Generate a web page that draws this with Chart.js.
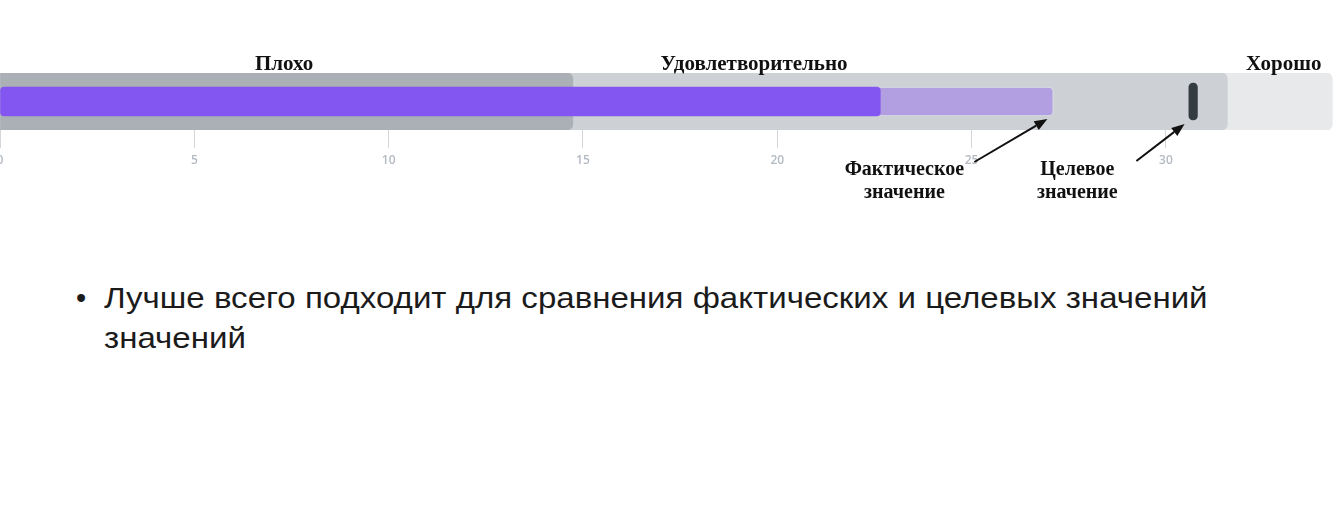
<!DOCTYPE html>
<html lang="ru">
<head>
<meta charset="utf-8">
<title>Маркированная диаграмма</title>
<script src="https://cdn.jsdelivr.net/npm/chart.js@4.4.1/dist/chart.umd.min.js"></script>
<style>
  html, body {
    margin: 0;
    padding: 0;
    background: #fff;
    width: 1342px;
    height: 509px;
    overflow: hidden;
    position: relative;
  }
  /* холст шире окна, чтобы ноль оси пришёлся на левый край */
  #chartBox {
    position: absolute;
    left: -40px;
    top: 0;
    width: 1422px;
    height: 215px;
  }
  .bullet-dot, .bullet-text {
    position: absolute;
    font-family: "Liberation Sans", Arial, sans-serif;
    font-size: 29px;
    line-height: 40px;
    color: #1b1b1b;
    white-space: nowrap;
  }
  .bullet-dot { left: 76px; top: 278px; }
  .bullet-text { left: 104px; top: 278px; transform: scaleX(1.14); transform-origin: 0 0; }
</style>
</head>
<body>

<div id="chartBox"><canvas id="bulletChart"></canvas></div>

<div class="bullet-dot">•</div>
<div class="bullet-text">Лучше всего подходит для сравнения фактических и целевых значений<br>значений</div>

<script>
/* --- Данные --- */
const categories = [''];
const rangeLabels = ['Плохо', 'Удовлетворительно', 'Хорошо'];
const rangeEnds = [14.74, 31.58, 34.28];
const mainValues = [22.65];
const actualValues = [27.1];
const targetValues = [30.7];
const xTicks = [0, 5, 10, 15, 20, 25, 30];
const noteLines = [['Фактическое', 'значение'], ['Целевое', 'значение']];

/* --- Оформление --- */
const rangeColors = ['#aab0b5', '#cdd1d5', '#e8e9eb'];
const markerHalf = 0.11;

// подписи и стрелки поверх графика
const notesPlugin = {
  id: 'notes',
  afterDatasetsDraw(chart) {
    const { ctx, chartArea, scales: { x } } = chart;
    const top = chartArea.top, bottom = chartArea.bottom;

    ctx.save();
    ctx.fillStyle = '#111';
    ctx.strokeStyle = '#111';
    ctx.textAlign = 'center';
    ctx.textBaseline = 'alphabetic';

    // названия диапазонов
    ctx.font = 'bold 21px "Liberation Serif", "Times New Roman", serif';
    const titleAt = [7.31, 19.4, 33.03];
    rangeLabels.forEach((t, i) => ctx.fillText(t, x.getPixelForValue(titleAt[i]), top - 3));

    // пояснения
    ctx.font = 'bold 20px "Liberation Serif", "Times New Roman", serif';
    const noteAt = [23.27, 27.72];
    noteLines.forEach((lines, i) => {
      lines.forEach((l, j) => ctx.fillText(l, x.getPixelForValue(noteAt[i]), bottom + 45 + j * 23));
    });

    // стрелки
    const arrows = [
      [x.getPixelForValue(25.07), bottom + 32, x.getPixelForValue(actualValues[0] - 0.15), bottom - 11],
      [x.getPixelForValue(29.24), bottom + 31, x.getPixelForValue(targetValues[0] - 0.22), bottom - 6]
    ];
    arrows.forEach(([x1, y1, x2, y2]) => {
      const a = Math.atan2(y2 - y1, x2 - x1);
      const hl = 13, hw = 5;
      const bx = x2 - hl * Math.cos(a), by = y2 - hl * Math.sin(a);
      ctx.lineWidth = 2;
      ctx.beginPath();
      ctx.moveTo(x1, y1);
      ctx.lineTo(bx, by);
      ctx.stroke();
      ctx.beginPath();
      ctx.moveTo(x2, y2);
      ctx.lineTo(bx + hw * Math.sin(a), by - hw * Math.cos(a));
      ctx.lineTo(bx - hw * Math.sin(a), by + hw * Math.cos(a));
      ctx.closePath();
      ctx.fill();
    });
    ctx.restore();
  }
};

/* --- Диапазоны (первый набор рисуется сверху) --- */
const rangeSets = rangeEnds.map((v, i) => ({
  label: rangeLabels[i],
  data: [v],
  backgroundColor: rangeColors[i],
  barThickness: 57,
  borderRadius: 6,
  borderSkipped: 'start',
  grouped: false
}));

new Chart(document.getElementById('bulletChart'), {
  type: 'bar',
  data: {
    labels: categories,
    datasets: [
      {
        label: 'Целевое значение',
        data: targetValues.map(v => [v - markerHalf, v + markerHalf]),
        backgroundColor: '#353c41',
        barThickness: 37,
        borderRadius: 5,
        borderSkipped: false,
        grouped: false
      },
      {
        label: 'Текущее',
        data: mainValues,
        backgroundColor: '#8456f1',
        barThickness: 29,
        borderRadius: 4,
        borderSkipped: false,
        grouped: false
      },
      {
        label: 'Фактическое значение',
        data: actualValues,
        backgroundColor: '#b19fe1',
        borderColor: 'rgba(255,255,255,0.35)',
        borderWidth: 1,
        barThickness: 29,
        borderRadius: 5,
        borderSkipped: false,
        grouped: false
      },
      ...rangeSets
    ]
  },
  options: {
    indexAxis: 'y',
    responsive: true,
    maintainAspectRatio: false,
    animation: false,
    layout: { padding: { left: 40, right: 40, top: 73, bottom: 40 } },
    plugins: {
      legend: { display: false },
      tooltip: { enabled: false }
    },
    scales: {
      y: { display: false },
      x: {
        min: 0,
        max: 34.53,
        afterBuildTicks: s => { s.ticks = xTicks.map(v => ({ value: v })); },
        afterFit: s => { s.height = 45; },
        border: { display: false },
        grid: {
          drawOnChartArea: false,
          drawTicks: true,
          tickLength: 18,
          color: '#d3d7db'
        },
        ticks: {
          color: '#b3bac2',
          padding: 5,
          font: { family: '"Open Sans", sans-serif', size: 12, weight: '600' }
        }
      }
    }
  },
  plugins: [notesPlugin]
});
</script>
</body>
</html>
